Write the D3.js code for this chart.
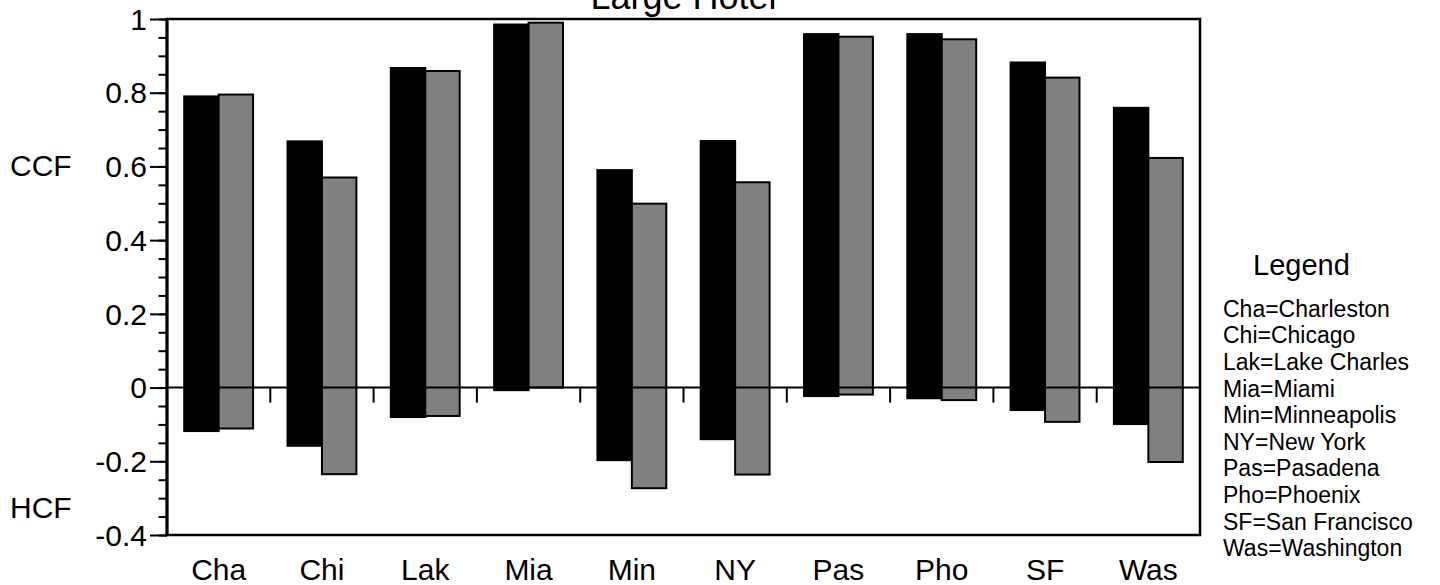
<!DOCTYPE html>
<html>
<head>
<meta charset="utf-8">
<script src="https://cdn.jsdelivr.net/npm/d3@7"></script>
<style>
  html, body { margin: 0; padding: 0; background: #fff; }
  svg { display: block; }
  text { font-family: "Liberation Sans", Arial, Helvetica, sans-serif; fill: #000; }
</style>
</head>
<body>
<svg id="chart" width="1440" height="585"></svg>
<script>
// ---- data ----
const categories = ["Cha", "Chi", "Lak", "Mia", "Min", "NY", "Pas", "Pho", "SF", "Was"];
const seriesNames = ["black", "gray"];
const blackTop    = [0.790, 0.668, 0.867, 0.985, 0.590, 0.669, 0.959, 0.959, 0.882, 0.759];
const blackBottom = [-0.118, -0.158, -0.080, -0.007, -0.197, -0.140, -0.023, -0.029, -0.061, -0.099];
const grayTop     = [0.795, 0.570, 0.859, 0.990, 0.499, 0.557, 0.952, 0.945, 0.841, 0.623];
const grayBottom  = [-0.111, -0.235, -0.077, 0.000, -0.273, -0.236, -0.019, -0.034, -0.093, -0.202];
const yMajorTicks = [-0.4, -0.2, 0, 0.2, 0.4, 0.6, 0.8, 1];
const yTickLabels = ["-0.4", "-0.2", "0", "0.2", "0.4", "0.6", "0.8", "1"];
const legendTitle = "Legend";
const legendItems = ["Cha=Charleston", "Chi=Chicago", "Lak=Lake Charles", "Mia=Miami",
  "Min=Minneapolis", "NY=New York", "Pas=Pasadena", "Pho=Phoenix",
  "SF=San Francisco", "Was=Washington"];
const chartTitle = "Large Hotel";
const yTopLabel = "CCF";
const yBottomLabel = "HCF";

(function () {
  // ---- layout ----
  const svg = d3.select("#chart");
  const pLeft = 167, pRight = 1200, pTop = 19, pBottom = 535;

  const x = d3.scaleBand().domain(categories).range([pLeft, pRight]).paddingInner(0).paddingOuter(0);
  const xs = d3.scaleBand().domain(seriesNames).range([0, x.bandwidth()]).paddingInner(0).paddingOuter(0.5);
  const y = d3.scaleLinear().domain([-0.4, 1]).range([pBottom, pTop]);

  const rows = categories.map((c, i) => ({
    cat: c,
    bars: [
      { s: "black", lo: blackBottom[i], hi: blackTop[i], fill: "#000000" },
      { s: "gray",  lo: grayBottom[i],  hi: grayTop[i],  fill: "#808080" }
    ]
  }));

  // bars
  const g = svg.append("g");
  rows.forEach(r => {
    g.selectAll(null).data(r.bars).enter().append("rect")
      .attr("x", d => x(r.cat) + xs(d.s))
      .attr("width", xs.bandwidth())
      .attr("y", d => y(d.hi))
      .attr("height", d => y(d.lo) - y(d.hi))
      .attr("fill", d => d.fill)
      .attr("stroke", "#000")
      .attr("stroke-width", 2);
  });

  // zero line
  svg.append("line")
    .attr("x1", pLeft).attr("x2", pRight)
    .attr("y1", y(0)).attr("y2", y(0))
    .attr("stroke", "#000").attr("stroke-width", 2);

  // category separator ticks below zero line
  svg.append("g").selectAll("line")
    .data(categories.slice(1)).enter().append("line")
    .attr("x1", d => x(d)).attr("x2", d => x(d))
    .attr("y1", y(0)).attr("y2", y(0) + 15)
    .attr("stroke", "#000").attr("stroke-width", 2);

  // frame
  svg.append("rect")
    .attr("x", pLeft).attr("y", pTop)
    .attr("width", pRight - pLeft).attr("height", pBottom - pTop)
    .attr("fill", "none").attr("stroke", "#000").attr("stroke-width", 2.5);

  // minor y ticks
  const minorAxis = d3.axisLeft(y).ticks(28).tickSize(8.5).tickFormat("");
  svg.append("g").attr("transform", `translate(${pLeft},0)`).call(minorAxis)
    .call(s => s.select(".domain").remove())
    .call(s => s.selectAll(".tick line").attr("stroke-width", 2));

  // major y ticks
  const majorAxis = d3.axisLeft(y).tickValues(yMajorTicks).tickSize(17).tickPadding(3)
    .tickFormat((d, i) => yTickLabels[i]);
  svg.append("g").attr("transform", `translate(${pLeft},0)`).call(majorAxis)
    .call(s => s.select(".domain").remove())
    .call(s => s.selectAll(".tick line").attr("stroke-width", 2))
    .call(s => s.selectAll(".tick text")
      .style("font-family", '"Liberation Sans", Arial, sans-serif')
      .style("font-size", "30px").attr("fill", "#000").attr("dy", "0.34em"));

  // left axis line (thicker)
  svg.append("line").attr("x1", pLeft).attr("x2", pLeft).attr("y1", pTop).attr("y2", pBottom)
    .attr("stroke", "#000").attr("stroke-width", 3);

  // x axis labels
  const xAxis = d3.axisBottom(x).tickSize(0).tickPadding(0);
  svg.append("g").attr("transform", `translate(0,${pBottom})`).call(xAxis)
    .call(s => s.select(".domain").remove())
    .call(s => s.selectAll(".tick text")
      .style("font-family", '"Liberation Sans", Arial, sans-serif')
      .style("font-size", "30px").attr("fill", "#000")
      .attr("y", 45).attr("dy", "0"));

  // title
  svg.append("text").attr("x", (pLeft + pRight) / 2).attr("y", 9)
    .attr("text-anchor", "middle").style("font-size", "36px").text(chartTitle);

  // y side labels
  svg.append("text").attr("x", 10).attr("y", 176).style("font-size", "30px").text(yTopLabel);
  svg.append("text").attr("x", 10).attr("y", 518).style("font-size", "30px").text(yBottomLabel);

  // legend
  svg.append("text").attr("x", 1253).attr("y", 275).style("font-size", "29px").text(legendTitle);
  svg.append("g").selectAll("text").data(legendItems).enter().append("text")
    .attr("x", 1223).attr("y", (d, i) => 316.7 + i * 26.6)
    .style("font-size", "23px").text(d => d);
})();
</script>
</body>
</html>
